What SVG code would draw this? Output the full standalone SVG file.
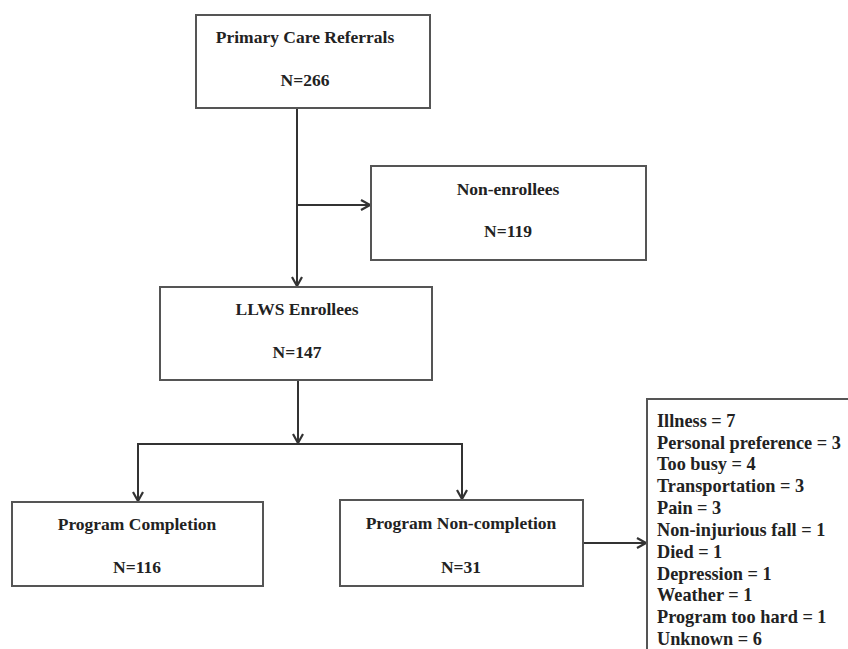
<svg xmlns="http://www.w3.org/2000/svg" width="848" height="649" viewBox="0 0 848 649">
<defs>
<marker id="arr" viewBox="0 0 12 12" refX="11" refY="6" markerWidth="12" markerHeight="12" markerUnits="userSpaceOnUse" orient="auto">
<polyline points="2,1 11,6 2,11" fill="none" stroke="#333" stroke-width="2.2"/>
</marker>
<style>
rect{fill:#fff;stroke:#555;stroke-width:2}
text{font-family:"Liberation Serif","DejaVu Serif",serif;font-weight:bold;font-size:17.5px;fill:#222}
.c{text-anchor:middle}
.r{font-size:18.3px}
.l{fill:none;stroke:#333;stroke-width:2}
</style>
</defs>
<rect x="0" y="0" width="848" height="649" style="stroke:none"/>
<g id="connectors">
<line class="l" x1="297" y1="108" x2="297" y2="286" marker-end="url(#arr)"/>
<line class="l" x1="297" y1="205" x2="370" y2="205" marker-end="url(#arr)"/>
<line class="l" x1="298" y1="380" x2="298" y2="443" marker-end="url(#arr)"/>
<polyline class="l" points="298,444 138,444 138,501" marker-end="url(#arr)"/>
<polyline class="l" points="298,444 462,444 462,499" marker-end="url(#arr)"/>
<line class="l" x1="583" y1="543" x2="646" y2="543" marker-end="url(#arr)"/>
</g>
<g id="referrals">
<rect x="196" y="15" width="234" height="93"/>
<text class="c" x="305" y="43">Primary Care Referrals</text>
<text class="c" x="305" y="86">N=266</text>
</g>
<g id="nonenrollees">
<rect x="371" y="166" width="275" height="94"/>
<text class="c" x="508" y="195">Non-enrollees</text>
<text class="c" x="508" y="237">N=119</text>
</g>
<g id="enrollees">
<rect x="160" y="287" width="272" height="93"/>
<text class="c" x="297" y="315">LLWS Enrollees</text>
<text class="c" x="297" y="358">N=147</text>
</g>
<g id="completion">
<rect x="12" y="502" width="251" height="84"/>
<text class="c" x="137" y="530">Program Completion</text>
<text class="c" x="137" y="573">N=116</text>
</g>
<g id="noncompletion">
<rect x="340" y="500" width="243" height="86"/>
<text class="c" x="461" y="529">Program Non-completion</text>
<text class="c" x="461" y="573">N=31</text>
</g>
<g id="reasons">
<rect x="647" y="399" width="220" height="270"/>
<text class="r" x="657" y="427">Illness = 7</text>
<text class="r" x="657" y="449">Personal preference = 3</text>
<text class="r" x="657" y="470">Too busy = 4</text>
<text class="r" x="657" y="492">Transportation = 3</text>
<text class="r" x="657" y="514">Pain = 3</text>
<text class="r" x="657" y="536">Non-injurious fall = 1</text>
<text class="r" x="657" y="558">Died = 1</text>
<text class="r" x="657" y="580">Depression = 1</text>
<text class="r" x="657" y="601">Weather = 1</text>
<text class="r" x="657" y="623">Program too hard = 1</text>
<text class="r" x="657" y="645">Unknown = 6</text>
</g>
</svg>
